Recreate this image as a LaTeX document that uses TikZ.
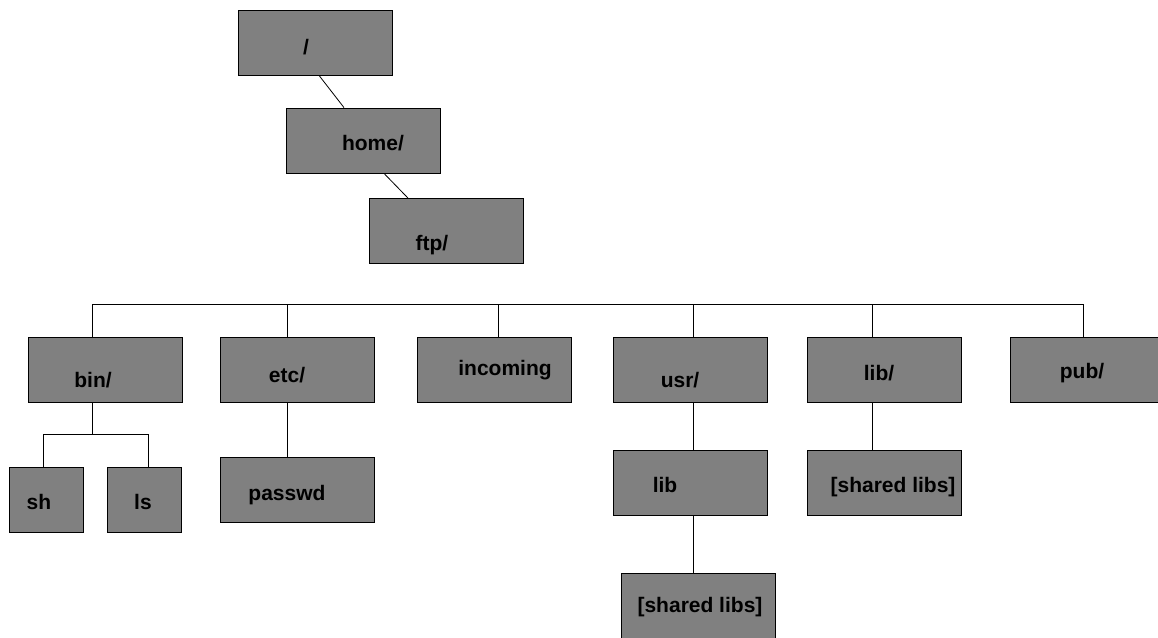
\documentclass[tikz,border=0pt]{standalone}
\usepackage{fontspec}
\setmainfont{Liberation Sans}
\definecolor{boxgray}{HTML}{808080}
\tikzset{
  dirbox/.style={draw=black, fill=boxgray, line width=0.8pt,
                 minimum width=154pt, minimum height=65pt, inner sep=0pt},
  filebox/.style={dirbox, minimum width=74pt},
  dirname/.style={font=\fontsize{21}{24}\selectfont\bfseries, inner sep=0pt},
  wire/.style={line width=0.8pt}
}
\begin{document}
\begin{tikzpicture}[x=1pt,y=-1pt]
\useasboundingbox (0,0) rectangle (1158,637);
% boxes
\node [dirbox] (root)      at (315.5,42.5) {};
\node [dirbox] (home)      at (363.5,140.5) {};
\node [dirbox] (ftp)       at (446.5,231) {};
\node [dirbox] (bin)       at (105,369.5) {};
\node [dirbox] (etc)       at (297.5,369.5) {};
\node [dirbox] (incoming)  at (494,369.5) {};
\node [dirbox] (usr)       at (690.5,369.5) {};
\node [dirbox] (lib)       at (884,369.5) {};
\node [dirbox] (pub)       at (1087,369.5) {};
\node [filebox] (sh)       at (46,500) {};
\node [filebox] (ls)       at (144.5,500) {};
\node [dirbox] (passwd)    at (297.5,490) {};
\node [dirbox] (usrlib)    at (690.5,482.5) {};
\node [dirbox] (libshared) at (884,482.5) {};
\node [dirbox] (usrshared) at (698.5,605.5) {};
% names
\foreach \n/\x/\y/\t in {root/306/47/{/}, home/373/143/{home/}, ftp/432/245/{ftp/},
    bin/93/380/{bin/}, etc/287/375/{etc/}, incoming/505/370/{incoming}, usr/680/380/{usr/},
    lib/879/373/{lib/}, pub/1082/373/{pub/}, sh/39/502/{sh}, ls/143/502/{ls},
    passwd/287/495/{passwd}, usrlib/665/485/{lib},
    libshared/893/487/{[shared libs]}, usrshared/700/607/{[shared libs]}}
  \node [dirname] (\n-t) at (\x,\y) {\t};
% links
\draw [wire] ([xshift=3.5pt]root.south) -- ([xshift=-19.5pt]home.north);
\draw [wire] ([xshift=20.5pt]home.south) -- ([xshift=-38.5pt]ftp.north);
\coordinate (busl) at (92,304);
\coordinate (busr) at (1083,304);
\draw [wire] (busl) -- (busr);
\foreach \n/\dx in {bin/-12.5, etc/-10.5, incoming/4, usr/2.5, lib/-12, pub/-4}
  \draw [wire] ([xshift=\dx pt]\n.north) -- ++(0,-33);
\draw [wire] ([xshift=-12.5pt]bin.south) -- ++(0,32) coordinate (binfork);
\draw [wire] ([xshift=-3pt]sh.north) |- (binfork) -| ([xshift=3.5pt]ls.north);
\draw [wire] ([xshift=-10.5pt]etc.south) -- ([xshift=-10.5pt]passwd.north);
\draw [wire] ([xshift=2.5pt]usr.south) -- ([xshift=2.5pt]usrlib.north);
\draw [wire] ([xshift=2.5pt]usrlib.south) -- ([xshift=-5.5pt]usrshared.north);
\draw [wire] ([xshift=-12pt]lib.south) -- ([xshift=-12pt]libshared.north);
\end{tikzpicture}
\end{document}
